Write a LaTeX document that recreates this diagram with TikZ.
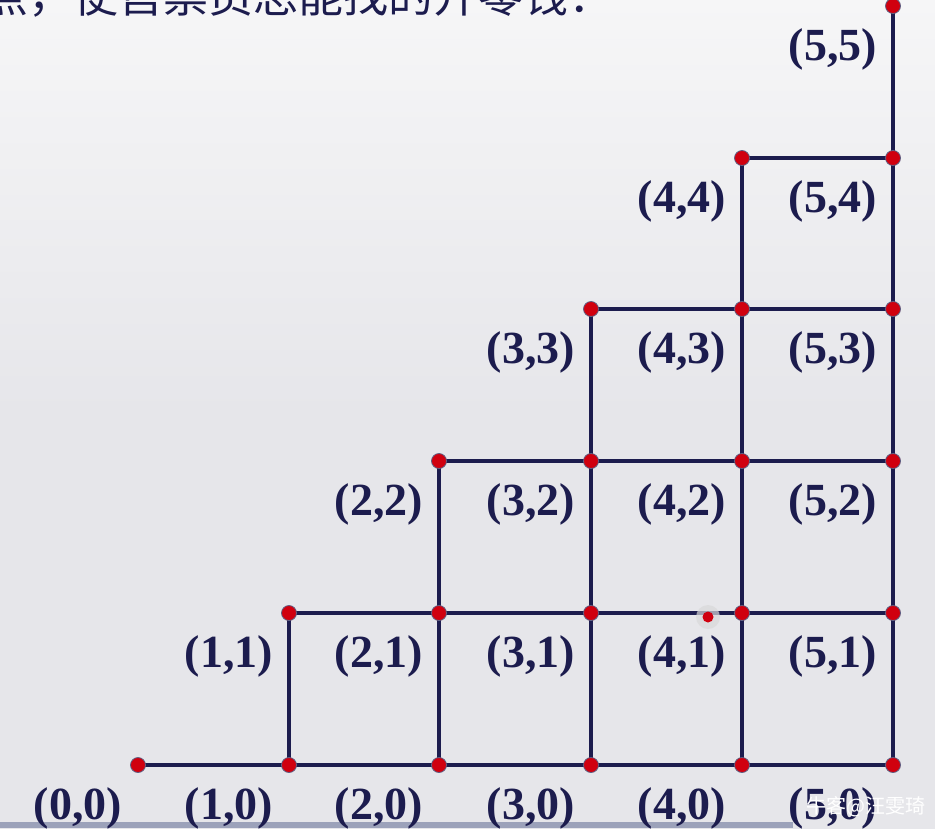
\documentclass[tikz,border=0pt]{standalone}
\usepackage{fontspec}
\setmainfont{Liberation Serif}
\newfontfamily\cjk{Noto Sans CJK SC}
\definecolor{navy}{HTML}{1C1C4E}
\definecolor{dotred}{HTML}{D0000F}
\definecolor{bgtop}{HTML}{F6F6F7}
\definecolor{bgmid}{HTML}{E6E6EA}
\definecolor{strip}{HTML}{9CA2BA}
\tikzset{
  grid line/.style={draw=navy, line width=4.5pt, line cap=round},
  gdot/.style={circle, fill=dotred, draw=navy!70, line width=0.8pt, minimum size=15pt, inner sep=0pt},
  lbl/.style={text=navy, font=\fontsize{46}{46}\selectfont\bfseries, inner sep=0pt},
}
\begin{document}
\begin{tikzpicture}[x=1pt,y=-1pt]
\useasboundingbox (0,0) rectangle (935,828);
\shade[top color=bgtop, bottom color=bgmid, middle color=bgmid] (0,0) rectangle (935,828);
\fill[strip] (0,822) rectangle (793,828);
% top cropped text
\node[anchor=base west, inner sep=0pt, text=navy, font=\cjk\fontsize{45}{45}\selectfont] (title) at (-17,12) {点，使售票员总能找的开零钱：};
% coordinates
\foreach \i/\x in {0/138,1/289,2/439,3/591,4/742,5/893}{
  \foreach \j/\y in {0/765,1/613,2/461,3/309,4/158,5/6}{
    \coordinate (p-\i-\j) at (\x,\y);
  }
}
% horizontal lines
\foreach \j in {0,...,4}{ \draw[grid line] (p-\j-\j) -- (p-5-\j); }
% vertical lines
\foreach \i in {1,...,5}{ \draw[grid line] (p-\i-0) -- (p-\i-\i); }
% dots and labels
\foreach \i in {0,...,5}{
  \foreach \j in {0,...,\i}{
    \node[gdot] (d-\i-\j) at (p-\i-\j) {};
    \node[lbl] (l-\i-\j) at ([shift={(-60,43)}]p-\i-\j) {(\i,\j)};
  }
}
% stray pointer dot
\node[circle, fill=gray!30, minimum size=24pt, inner sep=0pt, opacity=0.7] (cursorhalo) at (708,617) {};
\node[circle, fill=dotred, minimum size=11pt, inner sep=0pt] (cursor) at (708,617) {};
% watermark
\node[anchor=east, inner sep=0pt, text=white, font=\cjk\fontsize{20}{20}\selectfont] (wm) at (926,807) {牛客@汪雯琦};
\end{tikzpicture}
\end{document}
